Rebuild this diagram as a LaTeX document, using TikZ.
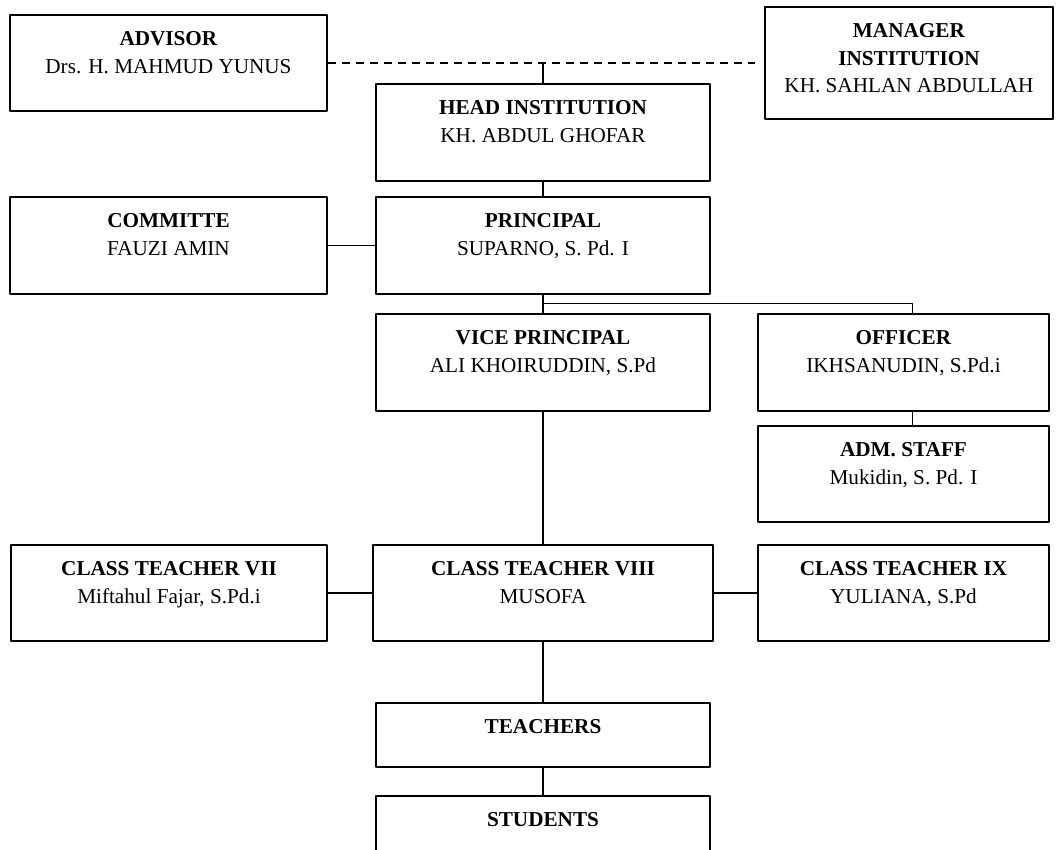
\documentclass[tikz,border=0pt]{standalone}
\usepackage{fontspec}
\setmainfont{Liberation Serif}
\begin{document}
\begin{tikzpicture}[line join=bevel,
  post/.style={draw,line width=1.5bp,inner sep=0pt},
  title/.style={anchor=north,align=center,inner sep=0pt,yshift=-17.5bp,font=\fontsize{21.2bp}{27.5bp}\selectfont},
  link/.style={line width=1.5bp}]
%%
\useasboundingbox (0bp,0bp) rectangle (1059bp,850bp);
\node (advisor) at (168.5bp,787bp) [post,minimum width=317bp,minimum height=96bp,label={[title]north:{\textbf{ADVISOR}\\Drs. H. MAHMUD YUNUS}}] {};
  \node (manager) at (909.0bp,787bp) [post,minimum width=288bp,minimum height=112bp,label={[title]north:{\textbf{MANAGER}\\\textbf{INSTITUTION}\\KH. SAHLAN ABDULLAH}}] {};
  \node (head) at (543.0bp,717.5bp) [post,minimum width=334bp,minimum height=97bp,label={[title]north:{\textbf{HEAD INSTITUTION}\\KH. ABDUL GHOFAR}}] {};
  \node (committe) at (168.5bp,604.5bp) [post,minimum width=317bp,minimum height=97bp,label={[title]north:{\textbf{COMMITTE}\\FAUZI AMIN}}] {};
  \node (principal) at (543.0bp,604.5bp) [post,minimum width=334bp,minimum height=97bp,label={[title]north:{\textbf{PRINCIPAL}\\SUPARNO, S. Pd. I}}] {};
  \node (vice) at (543.0bp,487.5bp) [post,minimum width=334bp,minimum height=97bp,label={[title]north:{\textbf{VICE PRINCIPAL}\\ALI KHOIRUDDIN, S.Pd}}] {};
  \node (officer) at (903.5bp,487.5bp) [post,minimum width=291bp,minimum height=97bp,label={[title]north:{\textbf{OFFICER}\\IKHSANUDIN, S.Pd.i}}] {};
  \node (adm) at (903.5bp,376.0bp) [post,minimum width=291bp,minimum height=96bp,label={[title]north:{\textbf{ADM. STAFF}\\Mukidin, S. Pd. I}}] {};
  \node (ctvii) at (169.0bp,257.0bp) [post,minimum width=316bp,minimum height=96bp,label={[title]north:{\textbf{CLASS TEACHER VII}\\Miftahul Fajar, S.Pd.i}}] {};
  \node (ctviii) at (543.0bp,257.0bp) [post,minimum width=340bp,minimum height=96bp,label={[title]north:{\textbf{CLASS TEACHER VIII}\\MUSOFA}}] {};
  \node (ctix) at (903.5bp,257.0bp) [post,minimum width=291bp,minimum height=96bp,label={[title]north:{\textbf{CLASS TEACHER IX}\\YULIANA, S.Pd}}] {};
  \node (teachers) at (543.0bp,115.0bp) [post,minimum width=334bp,minimum height=64bp,label={[title]north:{\textbf{TEACHERS}}}] {};
  \node (students) at (543.0bp,22.0bp) [post,minimum width=334bp,minimum height=64bp,label={[title]north:{\textbf{STUDENTS}}}] {};
  \coordinate (dashend) at (755.0bp,787bp);
%
  \draw [link,dash pattern=on 8bp off 6bp] (advisor.east) -- (dashend);
  \draw [link] (head.north) -- (head.north |- advisor.east);
  \draw [link] (head) -- (principal);
  \draw [link] (committe) -- (principal);
  \draw [link] (principal) -- (vice);
  \draw [link] ([yshift=-9bp]principal.south) -| ([xshift=9bp]officer.north);
  \draw [link] ([xshift=9bp]officer.south) -- ([xshift=9bp]adm.north);
  \draw [link] (vice) -- (ctviii);
  \draw [link] (ctvii) -- (ctviii);
  \draw [link] (ctviii) -- (ctix);
  \draw [link] (ctviii) -- (teachers);
  \draw [link] (teachers) -- (students);
%
\end{tikzpicture}
\end{document}
